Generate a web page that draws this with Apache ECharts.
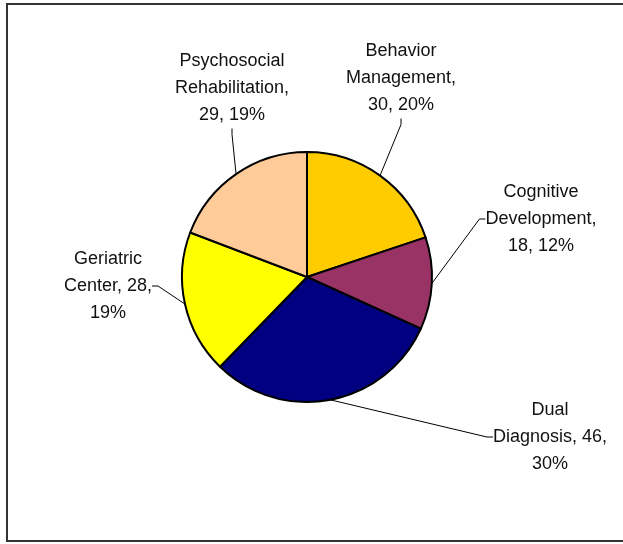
<!DOCTYPE html>
<html>
<head>
<meta charset="utf-8">
<script src="https://cdn.jsdelivr.net/npm/echarts@6/dist/echarts.min.js"></script>
<style>
html,body{margin:0;padding:0;background:#fff;}
#chart{width:623px;height:544px;}
</style>
</head>
<body>
<div id="chart"></div>
<script>
var categories = ['Behavior Management', 'Cognitive Development', 'Dual Diagnosis', 'Geriatric Center', 'Psychosocial Rehabilitation'];
var values = [30, 18, 46, 28, 29];
var colors = ['#FFCC00', '#993366', '#000080', '#FFFF00', '#FFCC99'];
// categories whose value sits on the second label line
var valueOnLine2 = ['Dual Diagnosis', 'Geriatric Center'];

var labelPos = [
  [401, 78],
  [541, 219],
  [550, 437],
  [108, 286],
  [232, 88]
];

var chart = echarts.init(document.getElementById('chart'), null, {renderer: 'canvas'});
var FONT = '"Liberation Sans", Arial, sans-serif';

chart.setOption({
  animation: false,
  backgroundColor: '#ffffff',
  graphic: [{
    type: 'rect',
    shape: {x: 7, y: 4, width: 620, height: 537},
    style: {fill: 'none', stroke: '#333333', lineWidth: 2},
    silent: true, z: -1
  }],
  series: [{
    type: 'pie',
    center: [307, 277],
    radius: 125,
    startAngle: 90,
    clockwise: true,
    percentPrecision: 0,
    avoidLabelOverlap: false,
    data: categories.map(function (c, i) {
      return {name: c, value: values[i], itemStyle: {color: colors[i]}};
    }),
    itemStyle: {borderColor: '#000', borderWidth: 2},
    emphasis: {disabled: true},
    label: {
      show: true,
      position: 'outside',
      fontFamily: FONT,
      fontSize: 18,
      lineHeight: 27,
      color: '#111',
      align: 'center',
      formatter: function (p) {
        var w = p.name.split(' ');
        if (valueOnLine2.indexOf(p.name) >= 0) {
          return w[0] + '\n' + w[1] + ', ' + p.value + ',\n' + p.percent + '%';
        }
        return w[0] + '\n' + w[1] + ',\n' + p.value + ', ' + p.percent + '%';
      }
    },
    labelLine: {
      show: true,
      length: 10,
      length2: 6,
      lineStyle: {color: '#000', width: 1}
    },
    labelLayout: function (params) {
      var pos = labelPos[params.dataIndex];
      return {x: pos[0], y: pos[1], align: 'center', verticalAlign: 'middle'};
    }
  }]
});
</script>
</body>
</html>
